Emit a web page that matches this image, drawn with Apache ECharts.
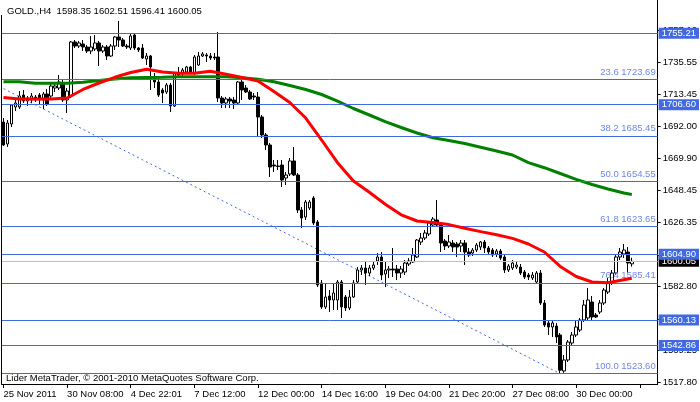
<!DOCTYPE html>
<html><head><meta charset="utf-8">
<script src="https://cdn.jsdelivr.net/npm/echarts@6/dist/echarts.min.js"></script>
<style>html,body{margin:0;padding:0;background:#fff}#c{width:700px;height:402px}</style>
</head><body><div id="c"></div>
<script>
const opens=[
1694.86,1679.89,1693.50,1705.07,1705.07,1713.23,1709.15,1709.83,1711.87,1713.23,
1709.83,1713.91,1712.55,1717.99,1717.99,1720.72,1709.83,1712.55,1749.29,1746.57,
1747.93,1745.89,1743.17,1744.53,1748.61,1743.17,1745.89,1739.77,1746.57,1752.70,
1750.65,1746.57,1745.21,1754.06,1745.21,1745.21,1737.73,1739.77,1725.48,1722.08,
1716.63,1715.27,1720.04,1705.75,1728.20,1728.20,1728.88,1732.28,1728.20,1733.64,
1739.77,1740.45,1739.77,1739.09,1739.09,1711.19,1707.79,1710.51,1709.83,1707.79,
1722.08,1717.99,1715.27,1712.55,1711.87,1698.26,1686.02,1679.21,1665.60,1664.92,
1665.60,1656.76,1659.48,1668.33,1658.80,1634.99,1630.22,1636.35,1643.15,1626.82,
1585.32,1568.99,1576.47,1573.75,1573.75,1586.00,1575.79,1568.31,1575.79,1586.00,
1594.16,1595.52,1592.12,1595.52,1600.29,1603.01,1591.44,1594.16,1594.84,1594.84,
1592.12,1592.80,1598.24,1599.61,1603.01,1613.21,1615.93,1618.66,1624.78,1628.18,
1624.78,1613.89,1610.49,1612.53,1611.85,1610.49,1612.53,1606.41,1605.73,1607.77,
1609.81,1613.21,1609.13,1607.77,1605.05,1607.09,1603.01,1594.16,1595.52,1596.20,
1596.20,1592.80,1590.76,1588.72,1586.00,1592.12,1571.71,1558.10,1555.38,1556.06,
1549.94,1525.50,1532.93,1544.49,1549.94,1553.34,1560.14,1561.50,1572.39,1563.54,
1565.59,1571.71,1579.19,1585.32,1592.12,1603.01,1605.05,1606.41,1598.35];
const highs=[
1697.58,1696.22,1707.11,1709.83,1715.95,1716.63,1712.55,1714.59,1713.23,1714.59,
1715.27,1717.31,1720.72,1722.08,1726.84,1723.44,1717.99,1749.97,1750.65,1749.97,
1750.65,1747.25,1753.38,1754.06,1749.97,1747.25,1747.25,1747.93,1753.38,1763.58,
1752.01,1747.93,1755.42,1755.42,1745.89,1747.93,1741.81,1740.45,1728.20,1724.80,
1717.99,1721.40,1721.40,1728.88,1732.28,1731.60,1732.96,1732.96,1740.45,1742.49,
1742.49,1741.81,1741.81,1741.81,1756.10,1712.55,1711.87,1711.87,1711.87,1722.76,
1724.12,1720.04,1716.63,1714.59,1715.27,1699.62,1687.38,1680.57,1669.01,1669.01,
1669.01,1660.84,1670.37,1677.85,1660.16,1637.03,1641.79,1641.79,1644.51,1628.18,
1587.36,1585.32,1580.55,1585.32,1587.36,1587.36,1577.15,1580.55,1587.36,1596.20,
1597.56,1599.61,1597.56,1599.61,1605.73,1606.41,1599.61,1596.88,1609.13,1597.56,
1596.88,1600.97,1602.33,1609.13,1615.25,1619.34,1621.38,1626.82,1630.22,1641.79,
1625.46,1615.25,1617.98,1614.57,1613.21,1614.57,1614.57,1609.13,1609.13,1612.53,
1613.89,1614.57,1610.49,1609.13,1608.45,1608.45,1604.37,1598.24,1600.97,1599.61,
1598.24,1594.16,1592.12,1592.80,1593.48,1594.16,1573.75,1560.14,1560.14,1558.10,
1551.30,1536.33,1546.53,1551.98,1560.14,1561.50,1573.75,1581.91,1576.47,1564.90,
1573.75,1581.91,1588.72,1594.16,1604.37,1609.13,1611.85,1609.81,1602.51];
const lows=[
1678.53,1677.85,1691.46,1702.35,1703.71,1707.79,1705.75,1707.79,1708.47,1707.11,
1703.71,1705.75,1711.19,1715.27,1716.63,1708.47,1700.98,1711.19,1745.21,1745.21,
1743.17,1741.81,1741.13,1743.17,1732.96,1741.81,1737.05,1739.09,1743.85,1745.89,
1745.89,1744.53,1743.85,1743.85,1742.49,1737.73,1733.64,1716.63,1717.99,1711.87,
1707.79,1713.91,1701.67,1705.07,1724.80,1725.48,1728.20,1728.20,1726.84,1732.96,
1739.09,1735.69,1737.05,1737.05,1708.47,1704.39,1704.39,1704.39,1703.71,1707.11,
1709.83,1714.59,1709.83,1709.83,1684.66,1683.97,1675.81,1657.44,1660.84,1662.20,
1650.64,1652.00,1658.12,1658.12,1632.94,1622.74,1628.18,1634.99,1624.78,1582.60,
1567.63,1567.63,1565.59,1566.95,1566.95,1561.50,1566.27,1566.95,1575.11,1585.32,
1590.76,1583.96,1590.08,1594.16,1597.56,1587.36,1582.60,1588.72,1589.40,1587.36,
1588.72,1590.76,1596.88,1598.92,1602.33,1611.17,1614.57,1617.30,1623.42,1623.42,
1606.41,1607.77,1609.13,1606.41,1603.01,1606.41,1597.56,1603.01,1603.69,1606.41,
1607.77,1605.73,1604.37,1603.01,1603.01,1600.97,1592.12,1592.80,1594.16,1594.84,
1590.76,1588.04,1587.36,1587.36,1584.64,1570.35,1555.38,1549.94,1548.58,1544.49,
1523.60,1524.20,1531.57,1543.13,1548.58,1551.98,1558.78,1560.14,1560.14,1561.50,
1564.22,1570.35,1577.83,1583.96,1590.76,1600.97,1602.33,1592.12,1596.41];
const closes=[
1679.21,1694.18,1706.43,1707.79,1712.55,1709.15,1711.19,1712.55,1709.83,1709.83,
1713.91,1707.11,1719.36,1719.36,1722.08,1709.83,1715.95,1749.29,1746.57,1748.61,
1745.89,1743.17,1745.89,1748.61,1743.17,1745.89,1739.77,1746.57,1752.70,1750.65,
1746.57,1745.89,1753.38,1745.21,1743.85,1738.41,1739.77,1732.28,1722.08,1713.23,
1714.59,1720.04,1705.75,1728.20,1726.84,1730.24,1732.28,1728.88,1739.09,1739.77,
1741.13,1739.77,1738.41,1738.41,1711.19,1707.79,1710.51,1709.15,1707.79,1722.08,
1716.63,1715.27,1710.51,1711.87,1698.26,1686.02,1679.21,1664.24,1664.92,1664.60,
1655.40,1658.80,1668.33,1658.80,1634.99,1629.54,1640.43,1640.43,1626.14,1583.96,
1568.99,1575.79,1573.75,1578.51,1586.00,1568.99,1568.31,1575.79,1585.32,1594.16,
1595.52,1592.12,1595.52,1597.56,1603.01,1590.76,1594.16,1594.84,1594.16,1592.12,
1594.84,1598.92,1600.29,1604.37,1614.57,1615.93,1619.34,1626.14,1628.86,1624.78,
1612.53,1610.49,1613.21,1609.81,1609.81,1612.53,1606.41,1604.37,1607.77,1611.17,
1613.21,1609.13,1606.41,1604.37,1607.09,1602.33,1594.16,1596.88,1598.92,1597.56,
1592.12,1589.40,1589.40,1590.76,1592.12,1571.71,1556.74,1555.38,1558.10,1548.58,
1526.00,1532.93,1545.17,1549.94,1555.38,1560.14,1570.35,1573.75,1562.18,1562.18,
1571.71,1580.55,1586.00,1592.12,1603.01,1606.41,1607.77,1598.92,1600.05];

const maIndex=[0,4,8,12,16,20,24,28,32,36,40,44,48,52,56,60,64,68,72,76,80,84,88,92,96,100,104,108,112,116,120,124,128,132,136,140,144,148,152,156,158];
const redMA=[1711.53,1710.51,1710.51,1710.51,1711.19,1717.00,1721.40,1725.28,1728.54,1730.72,
1728.88,1727.99,1728.06,1729.36,1727.38,1725.14,1722.76,1715.61,1708.13,1697.58,
1682.61,1667.17,1654.72,1647.03,1638.86,1631.72,1627.50,1626.55,1625.05,1622.60,
1620.29,1618.18,1615.66,1611.85,1606.41,1596.61,1589.74,1586.00,1585.52,1587.56,1588.51];
const greenMA=[1722.28,1722.28,1721.19,1721.19,1721.19,1721.87,1723.10,1724.12,1724.94,1725.14,
1725.34,1725.68,1725.68,1725.68,1725.62,1724.94,1723.92,1722.21,1719.70,1716.97,
1713.57,1709.01,1704.05,1699.62,1695.07,1691.12,1687.38,1684.11,1682.28,1680.23,
1677.65,1675.13,1672.41,1667.24,1663.77,1659.82,1655.87,1652.34,1649.28,1646.55,1645.53];

const timeLabels=['25 Nov 2011','30 Nov 08:00','4 Dec 22:01','7 Dec 12:00','12 Dec 00:00','14 Dec 16:00','19 Dec 04:00','21 Dec 20:00','27 Dec 08:00','30 Dec 00:00'];
const labelStep=16;
const slotCount=165;
const yTicks=[1757.10,1735.55,1713.45,1692.00,1669.90,1648.45,1626.35,1604.25,1582.80,1560.70,1539.25,1517.80];
const levels=[1755.21,1706.60,1604.90,1560.13,1542.86];
const fibPct=['23.6','38.2','50.0','61.8','76.4','100.0'];
const fibPrice=[1723.69,1685.45,1654.55,1623.65,1585.41,1523.60];
const fibTrend=[[0,1717.60],[140,1523.60]];
const lastPrice=1600.05;
const yMin=1516.60, yMax=1777.87;
const header='GOLD.,H4  1598.35 1602.51 1596.41 1600.05';
const footer='Lider MetaTrader, \u00a9 2001-2010 MetaQuotes Software Corp.';

const FONT='Liberation Sans';
const BLUE='#4169e1';
const cats=Array.from({length:slotCount},(_,i)=>String(i));
const candles=opens.map((o,i)=>[o,closes[i],lows[i],highs[i]]);

const markData=[];
markData.push({yAxis:lastPrice,lineStyle:{color:'#c0c0c0',width:1,type:'solid'},
  label:{show:true,position:'end',distance:1,formatter:lastPrice.toFixed(2),backgroundColor:'#000',color:'#fff',
  padding:[1,3,0,3],fontSize:9.5,fontFamily:FONT,lineHeight:10}});
fibPrice.forEach((v,k)=>markData.push({yAxis:v,lineStyle:{color:BLUE,width:1,type:'solid'},
  label:{show:true,position:'insideEndTop',distance:2,formatter:fibPct[k]+' '+v.toFixed(2),color:'#6f87e6',
  fontSize:9.5,fontFamily:FONT}}));
levels.forEach(v=>markData.push({yAxis:v,lineStyle:{color:BLUE,width:1,type:'solid'},
  label:{show:true,position:'end',distance:1,formatter:v.toFixed(2),backgroundColor:BLUE,color:'#fff',
  padding:[1,3,0,3],fontSize:9.5,fontFamily:FONT,lineHeight:10}}));

const chart=echarts.init(document.getElementById('c'),null,{renderer:'canvas'});
chart.setOption({
  animation:false,
  backgroundColor:'#fff',
  grid:{left:1.5,right:38.5,top:0,bottom:18,show:false},
  xAxis:{type:'category',data:cats,boundaryGap:true,
    axisLine:{show:true,lineStyle:{color:'#000',width:1}},
    axisTick:{show:true,alignWithLabel:true,interval:(i)=>i%labelStep===0,length:4,lineStyle:{color:'#000'}},
    axisLabel:{interval:(i)=>i%labelStep===0,formatter:(v,i)=>timeLabels[i/labelStep]||'',align:'left',margin:5,
      color:'#000',fontSize:9.5,fontFamily:FONT},
    splitLine:{show:false}},
  yAxis:{type:'value',position:'right',min:yMin,max:yMax,scale:true,
    axisLine:{show:true,lineStyle:{color:'#000',width:1}},
    splitLine:{show:false},
    axisTick:{show:true,customValues:yTicks,length:3,lineStyle:{color:'#000'}},
    axisLabel:{customValues:yTicks,formatter:v=>v.toFixed(2),margin:5,color:'#000',fontSize:9.5,fontFamily:FONT}},
  graphic:[
    {type:'line',shape:{x1:1.5,y1:15,x2:1.5,y2:384},style:{stroke:'#000',lineWidth:1},z:10},
    {type:'text',left:7,top:6,style:{text:header,font:'9.5px "Liberation Sans"',fill:'#000'},z:10},
    {type:'text',left:6,top:373,style:{text:footer,font:'9.5px "Liberation Sans"',fill:'#000'},z:10}
  ],
  series:[
    {type:'line',data:[],z:1,markLine:{silent:true,symbol:['none','none'],animation:false,data:markData}},
    {type:'candlestick',data:candles,barWidth:3,z:3,
      itemStyle:{color:'#fff',color0:'#000',borderColor:'#000',borderColor0:'#000',borderWidth:1}},
    {type:'line',data:maIndex.map((b,k)=>[b,greenMA[k]]),showSymbol:false,z:4,
      lineStyle:{color:'#008000',width:3}},
    {type:'line',data:maIndex.map((b,k)=>[b,redMA[k]]),showSymbol:false,z:5,
      lineStyle:{color:'#ff0000',width:3}},
    {type:'line',data:fibTrend,showSymbol:false,z:2,lineStyle:{color:BLUE,width:1,type:[2,3]}}
  ]
});
</script></body></html>
